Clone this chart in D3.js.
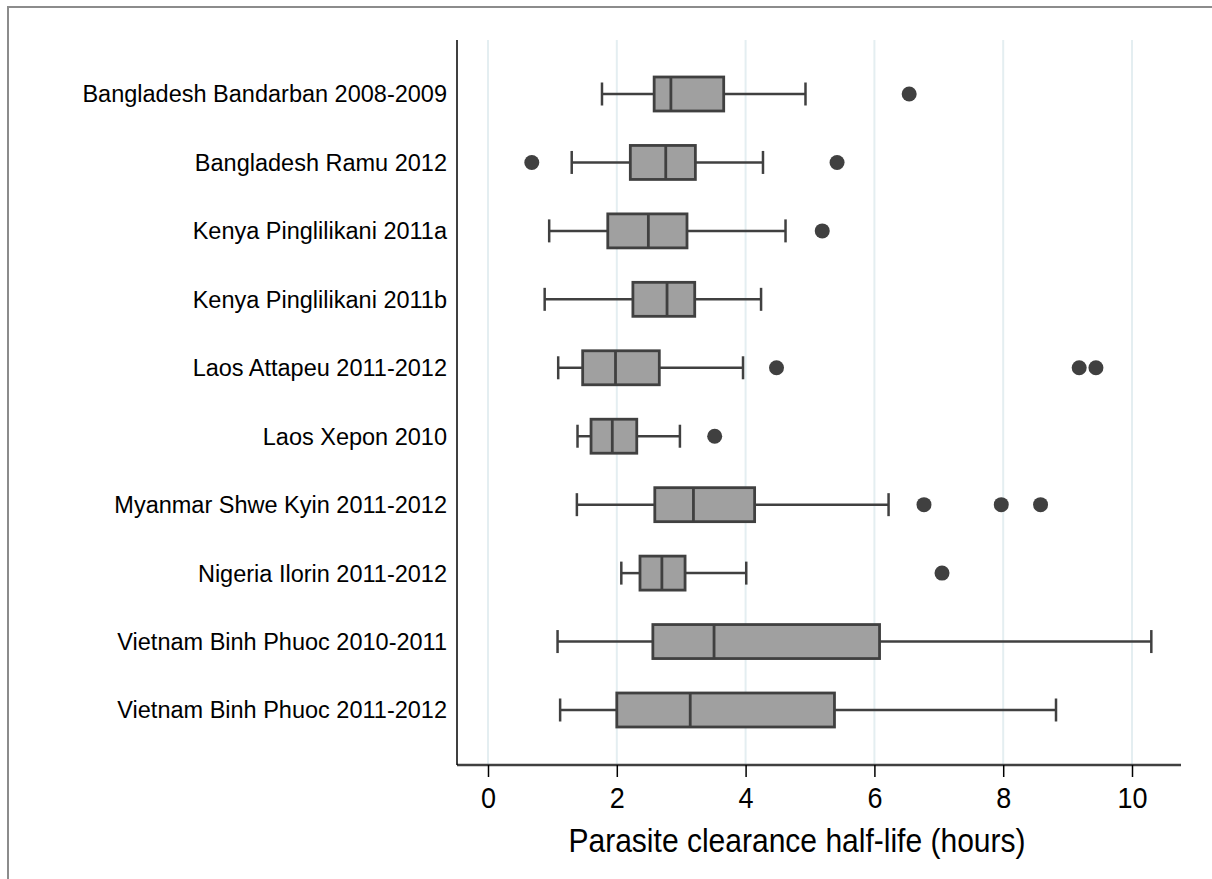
<!DOCTYPE html>
<html>
<head>
<meta charset="utf-8">
<script src="https://cdnjs.cloudflare.com/ajax/libs/d3/7.8.5/d3.min.js"></script>
<style>
  body { margin: 0; background: #ffffff; }
  text { font-family: "Liberation Sans", Arial, sans-serif; }
</style>
</head>
<body>
<div id="chart"></div>
<script>
// ======================================
// Data
// ======================================
var sites = [
  "Bangladesh Bandarban 2008-2009",
  "Bangladesh Ramu 2012",
  "Kenya Pinglilikani 2011a",
  "Kenya Pinglilikani 2011b",
  "Laos Attapeu 2011-2012",
  "Laos Xepon 2010",
  "Myanmar Shwe Kyin 2011-2012",
  "Nigeria Ilorin 2011-2012",
  "Vietnam Binh Phuoc 2010-2011",
  "Vietnam Binh Phuoc 2011-2012"
];

var whiskerLow  = [1.77, 1.30, 0.95, 0.88, 1.09, 1.39, 1.38, 2.07, 1.08, 1.12];
var q1          = [2.58, 2.21, 1.86, 2.25, 1.47, 1.60, 2.59, 2.36, 2.56, 2.00];
var median      = [2.84, 2.76, 2.49, 2.78, 1.98, 1.93, 3.19, 2.70, 3.51, 3.14];
var q3          = [3.66, 3.22, 3.09, 3.21, 2.66, 2.31, 4.14, 3.06, 6.08, 5.38];
var whiskerHigh = [4.93, 4.27, 4.62, 4.24, 3.96, 2.98, 6.22, 4.01, 10.30, 8.82];

var outliers = [
  [6.54],
  [0.68, 5.42],
  [5.19],
  [],
  [4.48, 9.18, 9.44],
  [3.52],
  [6.77, 7.97, 8.58],
  [7.05],
  [],
  []
];

var xTicks = [0, 2, 4, 6, 8, 10];
var xTitle = "Parasite clearance half-life (hours)";

// ======================================
// Layout
// ======================================
var svgWidth = 1212;
var svgHeight = 879;

var plot = {
  left: 457,
  right: 1181,
  top: 40,
  bottom: 765
};

var boxHeight = 34;
var capHeight = 23;
var dark = "#404040";

var svg = d3.select("#chart")
  .append("svg")
  .attr("width", svgWidth)
  .attr("height", svgHeight);

// outer frame (only top and left edges show)
svg.append("rect")
  .attr("x", 8)
  .attr("y", 7)
  .attr("width", svgWidth + 10)
  .attr("height", svgHeight + 10)
  .attr("fill", "none")
  .attr("stroke", "#8c8c8c")
  .attr("stroke-width", 2);

// ======================================
// Scales
// ======================================
var xScale = d3.scaleLinear()
  .domain([0, 10])
  .range([488, 1132]);

var yScale = d3.scalePoint()
  .domain(sites)
  .range([94, 710]);

var rows = sites.map(function(s, i) {
  return {
    site: s,
    lo: whiskerLow[i],
    q1: q1[i],
    med: median[i],
    q3: q3[i],
    hi: whiskerHigh[i],
    out: outliers[i]
  };
});

// ======================================
// Grid lines
// ======================================
svg.append("g")
  .selectAll("line")
  .data(xTicks)
  .enter()
  .append("line")
  .attr("x1", d => xScale(d))
  .attr("x2", d => xScale(d))
  .attr("y1", plot.top)
  .attr("y2", plot.bottom)
  .attr("stroke", "#e4eef1")
  .attr("stroke-width", 2);

// ======================================
// Axes
// ======================================
var xAxis = svg.append("g")
  .attr("transform", `translate(0, ${plot.bottom})`)
  .call(d3.axisBottom(xScale).tickValues(xTicks).tickSize(12).tickPadding(9).tickSizeOuter(0));

xAxis.select(".domain")
  .attr("d", `M${plot.left},0H${plot.right}`)
  .attr("stroke", dark)
  .attr("stroke-width", 2.5);

xAxis.selectAll(".tick line")
  .attr("stroke", "#000")
  .attr("stroke-width", 1.5);

// tick labels are a little squeezed in the original
xAxis.selectAll(".tick text")
  .attr("font-size", 30)
  .attr("fill", "#000")
  .attr("dy", "0.72em")
  .attr("transform", "scale(0.9, 1)");

// y axis line
svg.append("line")
  .attr("x1", plot.left)
  .attr("x2", plot.left)
  .attr("y1", plot.top)
  .attr("y2", plot.bottom)
  .attr("stroke", "#000")
  .attr("stroke-width", 1.5);

// y category labels
svg.append("g")
  .selectAll("text")
  .data(sites)
  .enter()
  .append("text")
  .attr("x", 447)
  .attr("y", d => yScale(d))
  .attr("dy", "0.36em")
  .attr("text-anchor", "end")
  .attr("font-size", 23.5)
  .attr("fill", "#000")
  .text(d => d);

// x axis title
svg.append("text")
  .attr("transform", "translate(797, 852) scale(0.91, 1)")
  .attr("text-anchor", "middle")
  .attr("font-size", 33)
  .attr("fill", "#000")
  .text(xTitle);

// ======================================
// Box plots
// ======================================
var boxes = svg.append("g")
  .selectAll("g")
  .data(rows)
  .enter()
  .append("g")
  .attr("transform", d => `translate(0, ${yScale(d.site)})`);

// whiskers
boxes.append("line")
  .attr("x1", d => xScale(d.lo))
  .attr("x2", d => xScale(d.q1))
  .attr("stroke", dark)
  .attr("stroke-width", 2.5);

boxes.append("line")
  .attr("x1", d => xScale(d.q3))
  .attr("x2", d => xScale(d.hi))
  .attr("stroke", dark)
  .attr("stroke-width", 2.5);

// caps
boxes.append("line")
  .attr("x1", d => xScale(d.lo))
  .attr("x2", d => xScale(d.lo))
  .attr("y1", -capHeight / 2)
  .attr("y2", capHeight / 2)
  .attr("stroke", dark)
  .attr("stroke-width", 2.5);

boxes.append("line")
  .attr("x1", d => xScale(d.hi))
  .attr("x2", d => xScale(d.hi))
  .attr("y1", -capHeight / 2)
  .attr("y2", capHeight / 2)
  .attr("stroke", dark)
  .attr("stroke-width", 2.5);

// box
boxes.append("rect")
  .attr("x", d => xScale(d.q1))
  .attr("width", d => xScale(d.q3) - xScale(d.q1))
  .attr("y", -boxHeight / 2)
  .attr("height", boxHeight)
  .attr("fill", "#a0a0a0")
  .attr("stroke", dark)
  .attr("stroke-width", 2.8);

// median
boxes.append("line")
  .attr("x1", d => xScale(d.med))
  .attr("x2", d => xScale(d.med))
  .attr("y1", -boxHeight / 2)
  .attr("y2", boxHeight / 2)
  .attr("stroke", dark)
  .attr("stroke-width", 2.8);

// outliers
boxes.selectAll("circle")
  .data(d => d.out)
  .enter()
  .append("circle")
  .attr("cx", d => xScale(d))
  .attr("cy", 0)
  .attr("r", 7.5)
  .attr("fill", dark);
</script>
</body>
</html>
